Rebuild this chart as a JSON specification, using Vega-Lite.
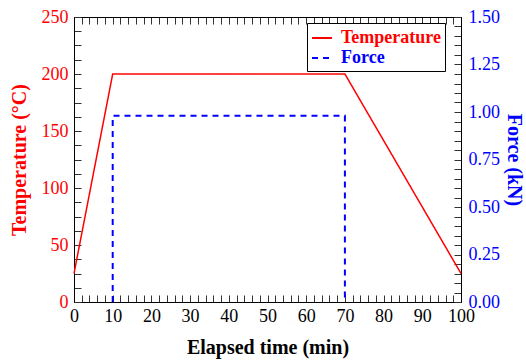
{
  "$schema": "https://vega.github.io/schema/vega-lite/v6.json",
  "width": 387,
  "height": 285,
  "autosize": "none",
  "padding": {"left": 74, "top": 17, "right": 65, "bottom": 61},
  "config": {
    "font": "Liberation Serif",
    "view": {"stroke": "black", "strokeWidth": 1},
    "axis": {
      "domainColor": "black",
      "tickColor": "#333",
      "labelFontSize": 18,
      "titleFontSize": 20,
      "titleFontWeight": "bold",
      "grid": false,
      "labelFont": "Liberation Serif",
      "titleFont": "Liberation Serif",
      "labelOverlap": false,
      "labelFlush": false
    },
    "legend": {
      "labelFont": "Liberation Serif",
      "labelFontSize": 18,
      "labelFontWeight": "bold"
    }
  },
  "data": {
    "values": [
      {"series": "Temperature", "t": 0, "value": 25, "i": 0},
      {"series": "Temperature", "t": 10, "value": 200, "i": 1},
      {"series": "Temperature", "t": 70, "value": 200, "i": 2},
      {"series": "Temperature", "t": 100, "value": 25, "i": 3},
      {"series": "Force", "t": 10, "value": 0, "i": 0},
      {"series": "Force", "t": 10, "value": 0.98, "i": 1},
      {"series": "Force", "t": 70, "value": 0.98, "i": 2},
      {"series": "Force", "t": 70, "value": 0, "i": 3}
    ]
  },
  "layer": [
    {
      "transform": [{"filter": "datum.series === 'Temperature'"}],
      "mark": {"type": "line", "strokeWidth": 1.5},
      "encoding": {
        "x": {
          "field": "t", "type": "quantitative",
          "scale": {"domain": [0, 100], "nice": false},
          "axis": {
            "orient": "bottom",
            "values": [0,2,4,6,8,10,12,14,16,18,20,22,24,26,28,30,32,34,36,38,40,42,44,46,48,50,52,54,56,58,60,62,64,66,68,70,72,74,76,78,80,82,84,86,88,90,92,94,96,98,100],
            "labelExpr": "datum.value % 10 === 0 ? datum.label : ''",
            "tickSize": -7,
            "labelPadding": 12,
            "labelColor": "black",
            "title": "Elapsed time (min)",
            "titleColor": "black",
            "titlePadding": 12,
            "encode": {"ticks": {"update": {"y2": {"signal": "datum.value % 10 === 0 ? -7 : -4"}}}}
          }
        },
        "y": {
          "field": "value", "type": "quantitative",
          "scale": {"domain": [0, 250], "nice": false},
          "axis": {
            "orient": "left",
            "values": [0,12.5,25,37.5,50,62.5,75,87.5,100,112.5,125,137.5,150,162.5,175,187.5,200,212.5,225,237.5,250],
            "labelExpr": "datum.value % 50 === 0 ? datum.label : ''",
            "tickSize": -7,
            "labelPadding": 13,
            "labelColor": "red",
            "title": "Temperature (°C)",
            "titleColor": "red",
            "titlePadding": 12,
            "encode": {"ticks": {"update": {"x2": {"signal": "datum.value % 50 === 0 ? 7 : 4"}}}}
          }
        },
        "color": {
          "field": "series", "type": "nominal",
          "scale": {"domain": ["Temperature", "Force"], "range": ["red", "blue"]},
          "legend": {
            "title": null,
            "orient": "none",
            "legendX": 233,
            "legendY": 6,
            "symbolType": "stroke",
            "symbolSize": 400,
            "symbolStrokeWidth": 2,
            "strokeColor": "black",
            "fillColor": "white",
            "padding": 4,
            "rowPadding": 0,
            "labelOffset": 8,
            "encode": {"labels": {"update": {"fill": {"signal": "datum.value === 'Temperature' ? 'red' : 'blue'"}}}}
          }
        },
        "strokeDash": {
          "field": "series", "type": "nominal",
          "scale": {"domain": ["Temperature", "Force"], "range": [[1, 0], [6, 5]]},
          "legend": {
            "title": null,
            "orient": "none",
            "legendX": 233,
            "legendY": 6,
            "symbolType": "stroke",
            "symbolSize": 400,
            "symbolStrokeWidth": 2,
            "strokeColor": "black",
            "fillColor": "white",
            "padding": 4,
            "rowPadding": 0,
            "labelOffset": 8,
            "encode": {"labels": {"update": {"fill": {"signal": "datum.value === 'Temperature' ? 'red' : 'blue'"}}}}
          }
        },
        "order": {"field": "i", "type": "quantitative"}
      }
    },
    {
      "transform": [{"filter": "datum.series === 'Force'"}],
      "mark": {"type": "line", "strokeWidth": 2},
      "encoding": {
        "x": {
          "field": "t", "type": "quantitative",
          "scale": {"domain": [0, 100], "nice": false},
          "axis": {
            "orient": "top",
            "values": [0,2,4,6,8,10,12,14,16,18,20,22,24,26,28,30,32,34,36,38,40,42,44,46,48,50,52,54,56,58,60,62,64,66,68,70,72,74,76,78,80,82,84,86,88,90,92,94,96,98,100],
            "labels": false,
            "tickSize": -7,
            "title": null,
            "encode": {"ticks": {"update": {"y2": {"signal": "datum.value % 10 === 0 ? 7 : 4"}}}}
          }
        },
        "y": {
          "field": "value", "type": "quantitative",
          "scale": {"domain": [0, 1.5], "nice": false},
          "axis": {
            "orient": "right",
            "values": [0,0.05,0.1,0.15,0.2,0.25,0.3,0.35,0.4,0.45,0.5,0.55,0.6,0.65,0.7,0.75,0.8,0.85,0.9,0.95,1,1.05,1.1,1.15,1.2,1.25,1.3,1.35,1.4,1.45,1.5],
            "format": ".2f",
            "labelExpr": "round(datum.value * 100) % 25 === 0 ? datum.label : ''",
            "tickSize": -7,
            "labelPadding": 14,
            "labelColor": "blue",
            "title": "Force (kN)",
            "titleColor": "blue",
            "titlePadding": 4,
            "encode": {"ticks": {"update": {"x2": {"signal": "round(datum.value * 100) % 25 === 0 ? -7 : -4"}}}}
          }
        },
        "color": {"field": "series", "type": "nominal"},
        "strokeDash": {"field": "series", "type": "nominal"},
        "order": {"field": "i", "type": "quantitative"}
      }
    }
  ],
  "resolve": {
    "scale": {"y": "independent"},
    "axis": {"x": "independent", "y": "independent"}
  }
}
